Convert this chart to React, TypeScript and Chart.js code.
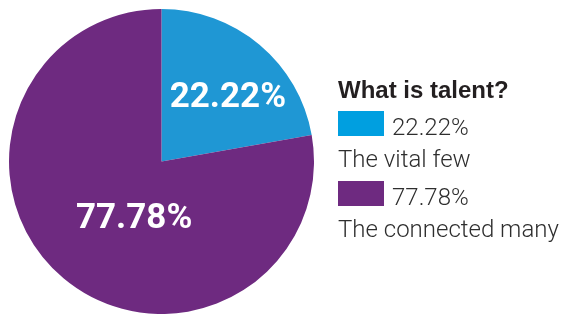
import React, { useEffect, useRef } from "react";
import { Chart, registerables } from "chart.js";

Chart.register(...registerables);

const categories = ["The vital few", "The connected many"];
const values = [22.22, 77.78];
const valueLabels = ["22.22%", "77.78%"];
const legendTitle = "What is talent?";
const sliceColors = ["#1f97d4", "#6e2a80"];
const legendColors = ["#009fe0", "#6e2a80"];

const sliceLabelPlugin = {
  id: "sliceLabels",
  afterDatasetsDraw(chart: any) {
    const ctx = chart.ctx;
    const meta = chart.getDatasetMeta(0);
    const place = [
      { f: 0.61, d: 5.5 },
      { f: 0.41, d: -14 },
    ];
    ctx.save();
    ctx.fillStyle = "#ffffff";
    ctx.font = "bold 35px Roboto, 'Liberation Sans', sans-serif";
    ctx.textAlign = "center";
    ctx.textBaseline = "middle";
    meta.data.forEach((arc: any, i: number) => {
      const p = arc.getProps(["x", "y", "startAngle", "endAngle", "outerRadius"], true);
      const a = (p.startAngle + p.endAngle) / 2 + (place[i].d * Math.PI) / 180;
      const r = p.outerRadius * place[i].f;
      ctx.fillText(valueLabels[i], p.x + Math.cos(a) * r, p.y + Math.sin(a) * r + 2);
    });
    ctx.restore();
  },
};

const legendPlugin = {
  id: "customLegend",
  afterDraw(chart: any) {
    const ctx = chart.ctx;
    const x0 = 338;
    ctx.save();
    ctx.textAlign = "left";
    ctx.textBaseline = "alphabetic";
    ctx.fillStyle = "#231f20";
    ctx.font = "bold 24px 'Liberation Sans', Arial, sans-serif";
    ctx.fillText(legendTitle, x0, 98);
    const rowStart = 111;
    const rowGap = 70;
    categories.forEach((c, i) => {
      const y = rowStart + i * rowGap;
      ctx.fillStyle = legendColors[i];
      ctx.fillRect(x0, y, 46, 25);
      ctx.fillStyle = "#2e2e2e";
      ctx.font = "300 24px Roboto, 'Liberation Sans', sans-serif";
      ctx.fillText(valueLabels[i], x0 + 54, y + 24);
      ctx.fillText(c, x0, y + 56);
    });
    ctx.restore();
  },
};

export default function App() {
  const ref = useRef<HTMLCanvasElement>(null);
  useEffect(() => {
    if (!ref.current) return;
    const chart = new Chart(ref.current, {
      type: "pie",
      data: {
        labels: categories,
        datasets: [
          {
            data: values,
            backgroundColor: sliceColors,
            borderWidth: 0,
          },
        ],
      },
      options: {
        responsive: false,
        animation: false,
        layout: { padding: { left: 8, top: 9, right: 248, bottom: 0 } },
        plugins: {
          legend: { display: false },
          tooltip: { enabled: false },
        },
      },
      plugins: [sliceLabelPlugin, legendPlugin],
    });
    return () => chart.destroy();
  }, []);
  return (
    <div style={{ position: "absolute", left: 0, top: 0, width: 563, height: 314, background: "#ffffff" }}>
      <canvas ref={ref} width={563} height={314} style={{ width: 563, height: 314 }} />
    </div>
  );
}
